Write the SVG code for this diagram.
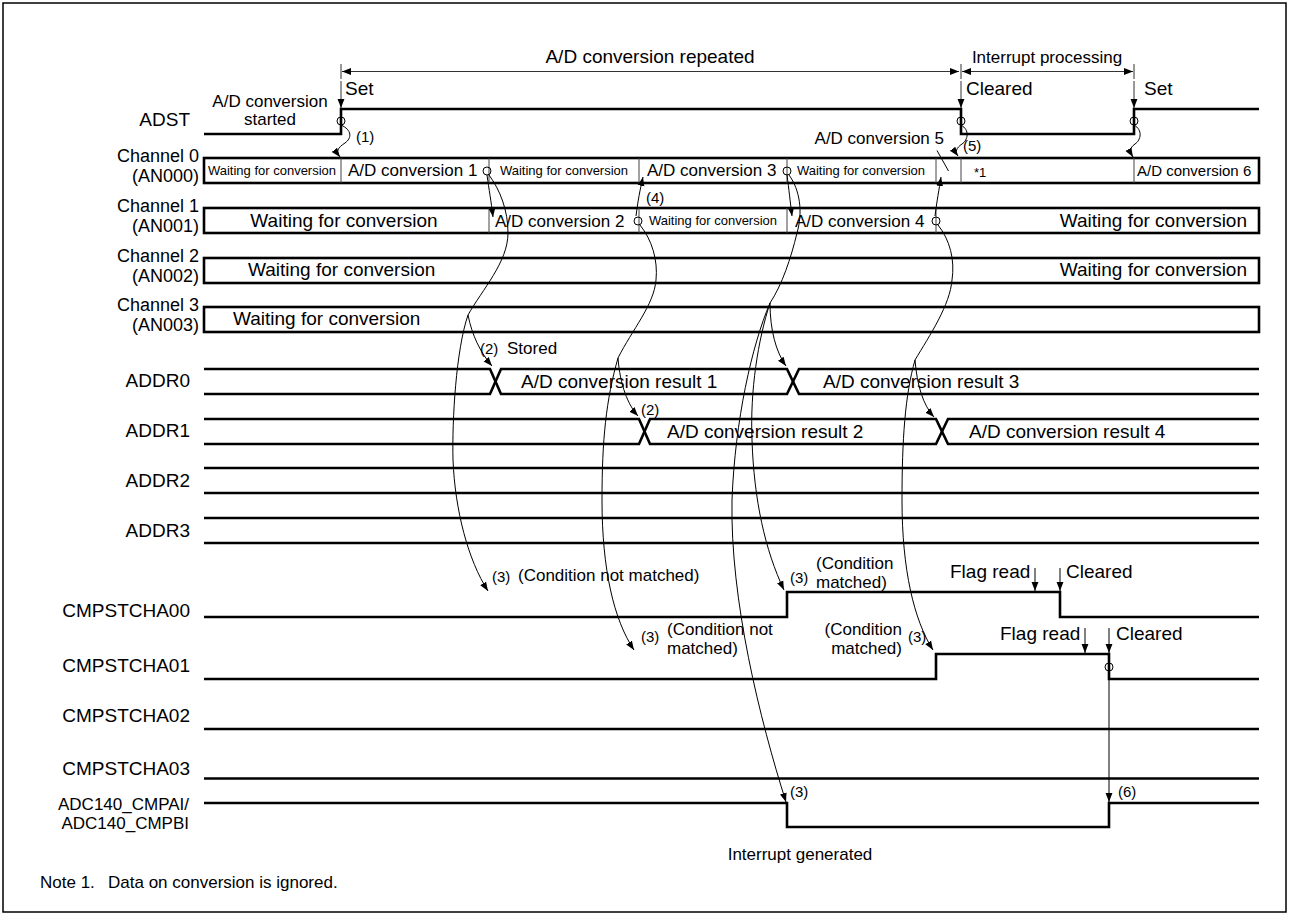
<svg xmlns="http://www.w3.org/2000/svg" width="1289" height="915" viewBox="0 0 1289 915">
<style>
text{font-family:"Liberation Sans",Arial,sans-serif;fill:#000}
.b{font-size:19px}
.l{font-size:18px}
.m{font-size:17px}
.s{font-size:13px}
.n{font-size:15px}
.r{text-anchor:end}
.c{text-anchor:middle}
.sig{fill:none;stroke:#000;stroke-width:2.6}
.box{fill:#fff;stroke:#000;stroke-width:2.6}
.div{stroke:#444;stroke-width:1}
.con{fill:none;stroke:#000;stroke-width:1}
.dim{fill:none;stroke:#333;stroke-width:1}
.ring{fill:none;stroke:#000;stroke-width:1}
</style>
<defs>
<marker id="ah" viewBox="0 0 10 10" refX="10" refY="5" markerWidth="9" markerHeight="9" markerUnits="userSpaceOnUse" orient="auto-start-reverse"><path d="M0,1.2 L10,5 L0,8.8 z" fill="#000"/></marker>
</defs>
<rect x="3" y="3" width="1283" height="909" fill="#fff" stroke="#000" stroke-width="1.5"/>

<g id="dimensions">
<line class="dim" x1="341" y1="64" x2="341" y2="79"/>
<line class="dim" x1="961" y1="64" x2="961" y2="79"/>
<line class="dim" x1="1134" y1="64" x2="1134" y2="79"/>
<line class="dim" x1="342" y1="71.5" x2="959" y2="71.5" marker-start="url(#ah)" marker-end="url(#ah)"/>
<line class="dim" x1="962" y1="71.5" x2="1133" y2="71.5" marker-start="url(#ah)" marker-end="url(#ah)"/>
<text class="b c" x="650" y="63">A/D conversion repeated</text>
<text class="m c" x="1047" y="63">Interrupt processing</text>
</g>

<g id="adst">
<text class="b r" x="190" y="126">ADST</text>
<text class="m c" x="270" y="106.5">A/D conversion</text>
<text class="m c" x="270" y="124.5">started</text>
<path class="sig" d="M204,134 H341 V109 H961 V134 H1134 V109 H1259"/>
<line class="dim" x1="341" y1="81" x2="341" y2="108" marker-end="url(#ah)"/>
<line class="dim" x1="961" y1="81" x2="961" y2="108" marker-end="url(#ah)"/>
<line class="dim" x1="1134" y1="81" x2="1134" y2="108" marker-end="url(#ah)"/>
<text class="b" x="345" y="95">Set</text>
<text class="b" x="966" y="95">Cleared</text>
<text class="b" x="1144" y="95">Set</text>
<circle class="ring" cx="341" cy="121" r="4"/>
<circle class="ring" cx="961" cy="121" r="4"/>
<circle class="ring" cx="1134" cy="121" r="4"/>
</g>

<g id="channel0">
<text class="l r" x="199" y="161.5">Channel 0</text>
<text class="l r" x="199" y="181.5">(AN000)</text>
<rect class="box" x="204" y="158" width="1055" height="25"/>
<line class="div" x1="341" y1="158" x2="341" y2="183"/>
<line class="div" x1="489" y1="158" x2="489" y2="183"/>
<line class="div" x1="639" y1="158" x2="639" y2="183"/>
<line class="div" x1="787" y1="158" x2="787" y2="183"/>
<line class="div" x1="936" y1="158" x2="936" y2="183"/>
<line class="div" x1="961" y1="158" x2="961" y2="183"/>
<line class="div" x1="1134" y1="158" x2="1134" y2="183"/>
<text class="s c" x="272" y="175">Waiting for conversion</text>
<text class="m" x="348" y="176">A/D conversion 1</text>
<text class="s c" x="564" y="175">Waiting for conversion</text>
<text class="m" x="647" y="176">A/D conversion 3</text>
<text class="s c" x="861" y="175">Waiting for conversion</text>
<text class="s" x="974" y="177">*1</text>
<text class="n" x="1137" y="176">A/D conversion 6</text>
<circle class="ring" cx="487" cy="171" r="4"/>
<circle class="ring" cx="787" cy="171" r="4"/>
<text class="m r" x="944" y="144">A/D conversion 5</text>
<line class="con" x1="937" y1="150.5" x2="948.5" y2="171"/>
</g>

<g id="channel1">
<text class="l r" x="199" y="211.5">Channel 1</text>
<text class="l r" x="199" y="231.5">(AN001)</text>
<rect class="box" x="204" y="208" width="1055" height="25"/>
<line class="div" x1="489" y1="208" x2="489" y2="233"/>
<line class="div" x1="639" y1="208" x2="639" y2="233"/>
<line class="div" x1="787" y1="208" x2="787" y2="233"/>
<line class="div" x1="936" y1="208" x2="936" y2="233"/>
<text class="b c" x="344" y="227">Waiting for conversion</text>
<text class="m" x="495" y="227">A/D conversion 2</text>
<text class="s c" x="713" y="225">Waiting for conversion</text>
<text class="m" x="795" y="227">A/D conversion 4</text>
<text class="b r" x="1247" y="227">Waiting for conversion</text>
<circle class="ring" cx="638" cy="221" r="4"/>
<circle class="ring" cx="936" cy="221" r="4"/>
</g>

<g id="channel2">
<text class="l r" x="199" y="261.5">Channel 2</text>
<text class="l r" x="199" y="281.5">(AN002)</text>
<rect class="box" x="204" y="258" width="1055" height="25"/>
<text class="b" x="248" y="276">Waiting for conversion</text>
<text class="b r" x="1247" y="276">Waiting for conversion</text>
</g>

<g id="channel3">
<text class="l r" x="199" y="310.5">Channel 3</text>
<text class="l r" x="199" y="330.5">(AN003)</text>
<rect class="box" x="204" y="307" width="1055" height="25"/>
<text class="b" x="233" y="325">Waiting for conversion</text>
</g>

<g id="addr0">
<text class="b r" x="190" y="387">ADDR0</text>
<path class="sig" d="M204,369 H490 L501,394 H787 L799,369 H1259"/>
<path class="sig" d="M204,394 H490 L501,369 H787 L799,394 H1259"/>
<text class="b" x="521" y="388">A/D conversion result 1</text>
<text class="b" x="823" y="388">A/D conversion result 3</text>
</g>

<g id="addr1">
<text class="b r" x="190" y="437">ADDR1</text>
<path class="sig" d="M204,419 H639 L650,444 H936 L948,419 H1259"/>
<path class="sig" d="M204,444 H639 L650,419 H936 L948,444 H1259"/>
<text class="b" x="667" y="438">A/D conversion result 2</text>
<text class="b" x="969" y="438">A/D conversion result 4</text>
</g>

<g id="addr2">
<text class="b r" x="190" y="487">ADDR2</text>
<path class="sig" d="M204,468 H1259 M204,493 H1259"/>
</g>

<g id="addr3">
<text class="b r" x="190" y="537">ADDR3</text>
<path class="sig" d="M204,518 H1259 M204,543 H1259"/>
</g>

<g id="cmpstcha00">
<text class="b r" x="190" y="617">CMPSTCHA00</text>
<path class="sig" d="M204,617 H787 V592 H1060 V617 H1259"/>
<text class="n" x="492" y="582">(3)</text>
<text class="m" x="518" y="581">(Condition not matched)</text>
<text class="n" x="790" y="583">(3)</text>
<text class="m" x="816" y="569">(Condition</text>
<text class="m" x="816" y="587.5">matched)</text>
<text class="b" x="950" y="578">Flag read</text>
<line class="con" x1="1035" y1="568" x2="1035" y2="591" marker-end="url(#ah)"/>
<line class="con" x1="1060" y1="568" x2="1060" y2="591" marker-end="url(#ah)"/>
<text class="b" x="1066" y="578">Cleared</text>
</g>

<g id="cmpstcha01">
<text class="b r" x="190" y="672">CMPSTCHA01</text>
<path class="sig" d="M204,679 H936 V654 H1109 V679 H1259"/>
<text class="n" x="641" y="642">(3)</text>
<text class="m" x="667" y="634.5">(Condition not</text>
<text class="m" x="667" y="653.5">matched)</text>
<text class="m r" x="902" y="634.5">(Condition</text>
<text class="m r" x="902" y="653.5">matched)</text>
<text class="n" x="908" y="642">(3)</text>
<text class="b" x="1000" y="640">Flag read</text>
<line class="con" x1="1085" y1="628" x2="1085" y2="653" marker-end="url(#ah)"/>
<line class="con" x1="1109" y1="628" x2="1109" y2="653" marker-end="url(#ah)"/>
<text class="b" x="1116" y="640">Cleared</text>
<circle class="ring" cx="1109" cy="667" r="4"/>
</g>

<g id="cmpstcha02">
<text class="b r" x="190" y="722">CMPSTCHA02</text>
<path class="sig" d="M204,729 H1259"/>
</g>

<g id="cmpstcha03">
<text class="b r" x="190" y="775">CMPSTCHA03</text>
<path class="sig" d="M204,778.5 H1259"/>
</g>

<g id="adc140">
<text class="m r" x="189" y="810">ADC140_CMPAI/</text>
<text class="m r" x="189" y="829">ADC140_CMPBI</text>
<path class="sig" d="M204,803 H787 V827 H1109 V803 H1259"/>
<text class="n" x="790" y="797">(3)</text>
<text class="n" x="1118" y="797">(6)</text>
<text class="m c" x="800" y="860">Interrupt generated</text>
</g>

<g id="note">
<text class="m" x="40" y="888">Note 1.</text>
<text class="m" x="108" y="888">Data on conversion is ignored.</text>
</g>

<g id="connectors">
<path class="con" d="M341,125 C352,130 352,138 345,143 C337,148 336,152 340,157" marker-end="url(#ah)"/>
<text class="n" x="356" y="142">(1)</text>
<path class="con" d="M961,125 C970,130 968,140 962,144 C956,148 955,152 958,156" marker-end="url(#ah)"/>
<text class="n" x="963" y="151">(5)</text>
<path class="con" d="M1134,125 C1143,130 1141,140 1135,144 C1129,148 1130,152 1133,157" marker-end="url(#ah)"/>

<path class="con" d="M487,175 C489,190 491,200 493,217" marker-end="url(#ah)"/>
<path class="con" d="M489,175 C500,190 508,210 508,233 C508,262 482,290 468,315"/>
<path class="con" d="M468,315 C472,335 480,352 492,366" marker-end="url(#ah)"/>
<path class="con" d="M468,315 C456,350 452,420 453,460 C455,510 468,560 488,591" marker-end="url(#ah)"/>
<text class="n" x="480" y="354">(2)</text>
<text class="m" x="507" y="354">Stored</text>

<path class="con" d="M636,216 C638,200 640,190 643,177" marker-end="url(#ah)"/>
<text class="n" x="646" y="203">(4)</text>
<path class="con" d="M640,225 C652,240 658,260 656,280 C654,305 632,330 618,358"/>
<path class="con" d="M618,358 C620,385 628,405 638,416" marker-end="url(#ah)"/>
<text class="n" x="641" y="415">(2)</text>
<path class="con" d="M618,358 C606,400 602,440 602,500 C602,570 614,620 634,650" marker-end="url(#ah)"/>

<path class="con" d="M787,175 C789,190 790,200 792,216" marker-end="url(#ah)"/>
<path class="con" d="M789,175 C800,190 803,212 797,233 C791,258 782,285 770,303"/>
<path class="con" d="M770,303 C770,330 776,352 786,366" marker-end="url(#ah)"/>
<path class="con" d="M770,303 C758,340 750,390 752,440 C754,500 765,550 784,590" marker-end="url(#ah)"/>
<path class="con" d="M770,303 C752,345 735,420 732,500 C730,600 760,720 786,802" marker-end="url(#ah)"/>

<path class="con" d="M935,216 C937,200 939,190 941,177" marker-end="url(#ah)"/>
<path class="con" d="M938,225 C950,240 955,260 952,280 C950,305 930,335 915,360"/>
<path class="con" d="M915,360 C917,385 923,405 934,417" marker-end="url(#ah)"/>
<path class="con" d="M915,360 C905,395 902,440 902,500 C902,570 914,620 933,650" marker-end="url(#ah)"/>

<line class="con" x1="1109" y1="671" x2="1109" y2="802" marker-end="url(#ah)"/>
</g>
</svg>
